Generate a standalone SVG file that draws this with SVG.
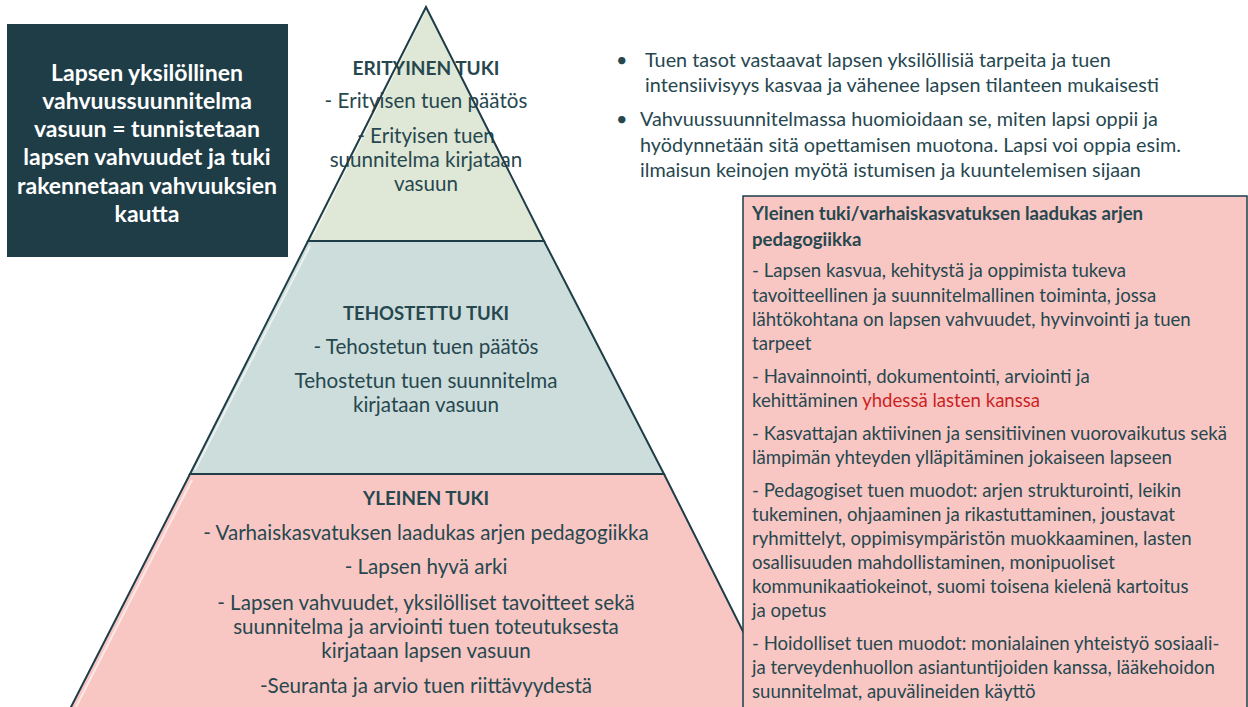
<svg xmlns="http://www.w3.org/2000/svg" width="1248" height="707" viewBox="0 0 1248 707">
<style>
.t{font-family:Lato,"Liberation Sans",sans-serif;fill:#27474f}
.c{text-anchor:middle}
.b{font-weight:bold}
.py{font-size:20.6px}
.pyh{font-size:19.5px;font-weight:bold}
.rt{font-size:19.8px}
.bx{font-size:18.6px}
.dk{font-family:Lato,"Liberation Sans",sans-serif;font-size:23px;font-weight:bold;fill:#ffffff;text-anchor:middle}
.edge{fill:none;stroke:#1f3d47;stroke-width:2;stroke-linejoin:miter}
.hl{fill:none;stroke:#ffffff;stroke-opacity:0.6;stroke-width:2}
</style>
<rect width="1248" height="707" fill="#ffffff"/>

<g id="node-top">
<polygon points="426,7 308,241 544,241" fill="#dfe7d6"/>
<line class="hl" x1="424" y1="13" x2="312" y2="237"/>
<text class="t pyh c" x="426" y="75" textLength="147" lengthAdjust="spacingAndGlyphs">ERITYINEN TUKI</text>
<text class="t py c" x="426" y="108">- Erityisen tuen päätös</text>
<text class="t py c" x="426" y="143">- Erityisen tuen</text>
<text class="t py c" x="426" y="167">suunnitelma kirjataan</text>
<text class="t py c" x="426" y="191">vasuun</text>
<polygon class="edge" points="426,7 308,241 544,241"/>
</g>

<g id="node-middle">
<polygon points="308,241 544,241 664,474 190,474" fill="#ccdddb"/>
<line class="hl" x1="310" y1="246" x2="195" y2="470"/>
<text class="t pyh c" x="426" y="320" textLength="166" lengthAdjust="spacingAndGlyphs">TEHOSTETTU TUKI</text>
<text class="t py c" x="426" y="354">- Tehostetun tuen päätös</text>
<text class="t py c" x="426" y="388">Tehostetun tuen suunnitelma</text>
<text class="t py c" x="426" y="412">kirjataan vasuun</text>
<polygon class="edge" points="308,241 544,241 664,474 190,474"/>
</g>

<g id="node-bottom">
<polygon points="190,474 664,474 782,709 70,709" fill="#f8c7c4"/>
<line class="hl" x1="192" y1="480" x2="76" y2="707"/>
<text class="t pyh c" x="426" y="505" textLength="126" lengthAdjust="spacingAndGlyphs">YLEINEN TUKI</text>
<text class="t py c" x="426" y="540">- Varhaiskasvatuksen laadukas arjen pedagogiikka</text>
<text class="t py c" x="426" y="574">- Lapsen hyvä arki</text>
<text class="t py c" x="426" y="610">- Lapsen vahvuudet, yksilölliset tavoitteet sekä</text>
<text class="t py c" x="426" y="634">suunnitelma ja arviointi tuen toteutuksesta</text>
<text class="t py c" x="426" y="658">kirjataan lapsen vasuun</text>
<text class="t py c" x="426" y="693">-Seuranta ja arvio tuen riittävyydestä</text>
<polyline class="edge" points="70,709 190,474 664,474 782,709"/>
</g>

<g id="node-strength">
<rect x="7" y="24" width="281" height="233" fill="#1f3d47"/>
<text class="dk" x="147" y="81">Lapsen yksilöllinen</text>
<text class="dk" x="147" y="109">vahvuussuunnitelma</text>
<text class="dk" x="147" y="137">vasuun = tunnistetaan</text>
<text class="dk" x="147" y="165">lapsen vahvuudet ja tuki</text>
<text class="dk" x="147" y="194">rakennetaan vahvuuksien</text>
<text class="dk" x="147" y="222">kautta</text>
</g>

<g id="node-bullets">
<text class="t rt" x="616" y="67">•</text>
<text class="t rt" x="645" y="67">Tuen tasot vastaavat lapsen yksilöllisiä tarpeita ja tuen</text>
<text class="t rt" x="645" y="92">intensiivisyys kasvaa ja vähenee lapsen tilanteen mukaisesti</text>
<text class="t rt" x="616" y="126">•</text>
<text class="t rt" x="640" y="126">Vahvuussuunnitelmassa huomioidaan se, miten lapsi oppii ja</text>
<text class="t rt" x="640" y="152">hyödynnetään sitä opettamisen muotona. Lapsi voi oppia esim.</text>
<text class="t rt" x="640" y="177">ilmaisun keinojen myötä istumisen ja kuuntelemisen sijaan</text>
</g>

<g id="node-general">
<rect x="743" y="196" width="504" height="514" fill="#f8c7c4" stroke="#1f3d47" stroke-width="1.5"/>
<text class="t bx b" x="752" y="220">Yleinen tuki/varhaiskasvatuksen laadukas arjen</text>
<text class="t bx b" x="752" y="246">pedagogiikka</text>
<text class="t bx" x="752" y="277">- Lapsen kasvua, kehitystä ja oppimista tukeva</text>
<text class="t bx" x="752" y="302">tavoitteellinen ja suunnitelmallinen toiminta, jossa</text>
<text class="t bx" x="752" y="326">lähtökohtana on lapsen vahvuudet, hyvinvointi ja tuen</text>
<text class="t bx" x="752" y="350">tarpeet</text>
<text class="t bx" x="752" y="383">- Havainnointi, dokumentointi, arviointi ja</text>
<text class="t bx" x="752" y="407">kehittäminen <tspan fill="#cc1f1f">yhdessä lasten kanssa</tspan></text>
<text class="t bx" x="752" y="440">- Kasvattajan aktiivinen ja sensitiivinen vuorovaikutus sekä</text>
<text class="t bx" x="752" y="464">lämpimän yhteyden ylläpitäminen jokaiseen lapseen</text>
<text class="t bx" x="752" y="497">- Pedagogiset tuen muodot: arjen strukturointi, leikin</text>
<text class="t bx" x="752" y="521">tukeminen, ohjaaminen ja rikastuttaminen, joustavat</text>
<text class="t bx" x="752" y="545">ryhmittelyt, oppimisympäristön muokkaaminen, lasten</text>
<text class="t bx" x="752" y="569">osallisuuden mahdollistaminen, monipuoliset</text>
<text class="t bx" x="752" y="593">kommunikaatiokeinot, suomi toisena kielenä kartoitus</text>
<text class="t bx" x="752" y="617">ja opetus</text>
<text class="t bx" x="752" y="650">- Hoidolliset tuen muodot: monialainen yhteistyö sosiaali-</text>
<text class="t bx" x="752" y="674">ja terveydenhuollon asiantuntijoiden kanssa, lääkehoidon</text>
<text class="t bx" x="752" y="698">suunnitelmat, apuvälineiden käyttö</text>
</g>

<g id="connectors"></g>
</svg>
